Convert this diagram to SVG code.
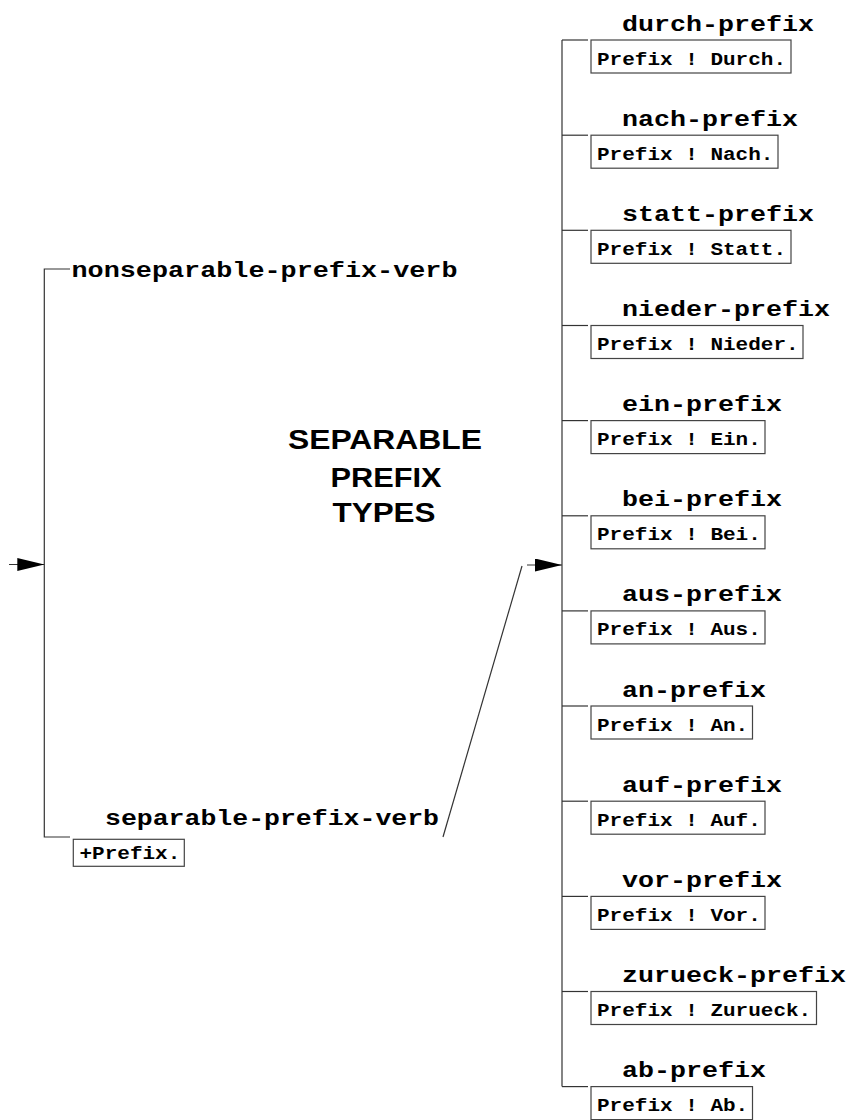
<svg xmlns="http://www.w3.org/2000/svg" width="850" height="1120" viewBox="0 0 850 1120">
<style>
.ln{stroke:#333;stroke-width:1.2;fill:none}
.box{fill:#fff;stroke:#444;stroke-width:1.2}
.lbl{font-family:"Liberation Mono","DejaVu Sans Mono",monospace;font-weight:bold;font-size:22px;fill:#000}
.bt{font-family:"Liberation Mono","DejaVu Sans Mono",monospace;font-weight:bold;font-size:18.5px;fill:#000}
.title{font-family:"Liberation Sans",Arial,sans-serif;font-weight:bold;font-size:27px;fill:#000}
</style>
<defs>
<marker id="ah" markerUnits="userSpaceOnUse" markerWidth="28" markerHeight="14" refX="27" refY="6.5" orient="auto"><path d="M0,0 L27,6.5 L0,13 z" fill="#000"/></marker>
</defs>
<g id="connectors">
<line class="ln" x1="9" y1="564.5" x2="44.3" y2="564.5" marker-end="url(#ah)"/>
<path class="ln" d="M70,269 H44.3 V837 H70"/>
<line class="ln" x1="443" y1="837" x2="522" y2="566"/>
<line class="ln" x1="527" y1="565" x2="562" y2="565" marker-end="url(#ah)"/>
<line class="ln" x1="562" y1="40" x2="562" y2="1086.6"/>
<line class="ln" x1="562" y1="40" x2="588" y2="40"/>
<line class="ln" x1="562" y1="135.2" x2="588" y2="135.2"/>
<line class="ln" x1="562" y1="230.3" x2="588" y2="230.3"/>
<line class="ln" x1="562" y1="325.5" x2="588" y2="325.5"/>
<line class="ln" x1="562" y1="420.6" x2="588" y2="420.6"/>
<line class="ln" x1="562" y1="515.8" x2="588" y2="515.8"/>
<line class="ln" x1="562" y1="610.9" x2="588" y2="610.9"/>
<line class="ln" x1="562" y1="706" x2="588" y2="706"/>
<line class="ln" x1="562" y1="801.2" x2="588" y2="801.2"/>
<line class="ln" x1="562" y1="896.4" x2="588" y2="896.4"/>
<line class="ln" x1="562" y1="991.5" x2="588" y2="991.5"/>
<line class="ln" x1="562" y1="1086.6" x2="588" y2="1086.6"/>
</g>
<g id="title">
<text class="title" x="385" y="449" text-anchor="middle" textLength="194" lengthAdjust="spacingAndGlyphs">SEPARABLE</text>
<text class="title" x="386" y="487" text-anchor="middle" textLength="111" lengthAdjust="spacingAndGlyphs">PREFIX</text>
<text class="title" x="384" y="522" text-anchor="middle" textLength="103" lengthAdjust="spacingAndGlyphs">TYPES</text>
</g>
<g id="nonseparable-prefix-verb">
<text class="lbl" x="71.5" y="276.5" textLength="386" lengthAdjust="spacingAndGlyphs">nonseparable-prefix-verb</text>
</g>
<g id="separable-prefix-verb">
<text class="lbl" x="105" y="825" textLength="334" lengthAdjust="spacingAndGlyphs">separable-prefix-verb</text>
<rect class="box" x="73.3" y="839.3" width="111" height="27"/>
<text class="bt" x="79.5" y="858.5" textLength="100.8" lengthAdjust="spacingAndGlyphs">+Prefix.</text>
</g>
<g id="durch-prefix">
<text class="lbl" x="622" y="30.5" textLength="192" lengthAdjust="spacingAndGlyphs">durch-prefix</text>
<rect class="box" x="591" y="40" width="200" height="33"/>
<text class="bt" x="597" y="64.5" textLength="189" lengthAdjust="spacingAndGlyphs">Prefix ! Durch.</text>
</g>
<g id="nach-prefix">
<text class="lbl" x="622" y="125.7" textLength="176" lengthAdjust="spacingAndGlyphs">nach-prefix</text>
<rect class="box" x="591" y="135.2" width="187" height="33"/>
<text class="bt" x="597" y="159.7" textLength="176.4" lengthAdjust="spacingAndGlyphs">Prefix ! Nach.</text>
</g>
<g id="statt-prefix">
<text class="lbl" x="622" y="220.8" textLength="192" lengthAdjust="spacingAndGlyphs">statt-prefix</text>
<rect class="box" x="591" y="230.3" width="200" height="33"/>
<text class="bt" x="597" y="254.8" textLength="189" lengthAdjust="spacingAndGlyphs">Prefix ! Statt.</text>
</g>
<g id="nieder-prefix">
<text class="lbl" x="622" y="316" textLength="208" lengthAdjust="spacingAndGlyphs">nieder-prefix</text>
<rect class="box" x="591" y="325.5" width="212" height="33"/>
<text class="bt" x="597" y="350" textLength="201.6" lengthAdjust="spacingAndGlyphs">Prefix ! Nieder.</text>
</g>
<g id="ein-prefix">
<text class="lbl" x="622" y="411.1" textLength="160" lengthAdjust="spacingAndGlyphs">ein-prefix</text>
<rect class="box" x="591" y="420.6" width="174" height="33"/>
<text class="bt" x="597" y="445.1" textLength="163.8" lengthAdjust="spacingAndGlyphs">Prefix ! Ein.</text>
</g>
<g id="bei-prefix">
<text class="lbl" x="622" y="506.3" textLength="160" lengthAdjust="spacingAndGlyphs">bei-prefix</text>
<rect class="box" x="591" y="515.8" width="174" height="33"/>
<text class="bt" x="597" y="540.3" textLength="163.8" lengthAdjust="spacingAndGlyphs">Prefix ! Bei.</text>
</g>
<g id="aus-prefix">
<text class="lbl" x="622" y="601.4" textLength="160" lengthAdjust="spacingAndGlyphs">aus-prefix</text>
<rect class="box" x="591" y="610.9" width="174" height="33"/>
<text class="bt" x="597" y="635.4" textLength="163.8" lengthAdjust="spacingAndGlyphs">Prefix ! Aus.</text>
</g>
<g id="an-prefix">
<text class="lbl" x="622" y="696.5" textLength="144" lengthAdjust="spacingAndGlyphs">an-prefix</text>
<rect class="box" x="591" y="706" width="161.5" height="33"/>
<text class="bt" x="597" y="730.5" textLength="151.2" lengthAdjust="spacingAndGlyphs">Prefix ! An.</text>
</g>
<g id="auf-prefix">
<text class="lbl" x="622" y="791.7" textLength="160" lengthAdjust="spacingAndGlyphs">auf-prefix</text>
<rect class="box" x="591" y="801.2" width="174" height="33"/>
<text class="bt" x="597" y="825.7" textLength="163.8" lengthAdjust="spacingAndGlyphs">Prefix ! Auf.</text>
</g>
<g id="vor-prefix">
<text class="lbl" x="622" y="886.9" textLength="160" lengthAdjust="spacingAndGlyphs">vor-prefix</text>
<rect class="box" x="591" y="896.4" width="174" height="33"/>
<text class="bt" x="597" y="920.9" textLength="163.8" lengthAdjust="spacingAndGlyphs">Prefix ! Vor.</text>
</g>
<g id="zurueck-prefix">
<text class="lbl" x="622" y="982" textLength="224" lengthAdjust="spacingAndGlyphs">zurueck-prefix</text>
<rect class="box" x="591" y="991.5" width="225.5" height="33"/>
<text class="bt" x="597" y="1016" textLength="214.2" lengthAdjust="spacingAndGlyphs">Prefix ! Zurueck.</text>
</g>
<g id="ab-prefix">
<text class="lbl" x="622" y="1077.1" textLength="144" lengthAdjust="spacingAndGlyphs">ab-prefix</text>
<rect class="box" x="591" y="1086.6" width="161.5" height="33"/>
<text class="bt" x="597" y="1111.1" textLength="151.2" lengthAdjust="spacingAndGlyphs">Prefix ! Ab.</text>
</g>
</svg>
